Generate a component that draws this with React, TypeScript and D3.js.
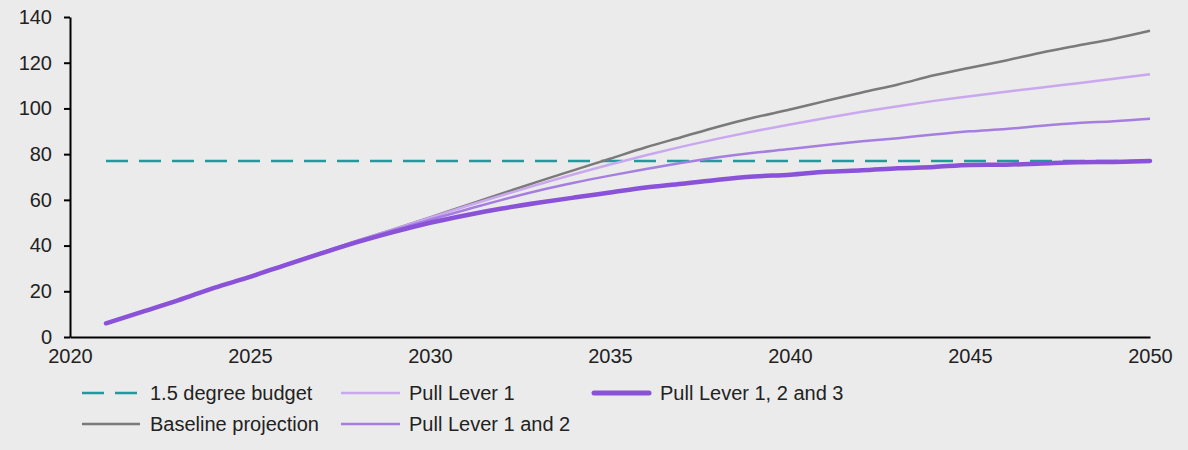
import React, { useEffect, useRef } from "react";
import * as d3 from "d3";

const years: number[] = d3.range(2021, 2051);

const baseline: number[] = [
  6, 11, 16, 21.5, 26.5, 31.8, 37, 42.2, 47.2, 52.3, 57.6, 62.8, 68, 73, 78,
  83, 87.5, 92, 96, 99.5, 103.3, 107, 110.5, 114.5, 117.8, 121, 124.5, 127.5,
  130.5, 134,
];
const lever1: number[] = [
  6, 11, 16, 21.5, 26.5, 31.8, 37, 42.2, 47.2, 52.2, 57.2, 62, 66.7, 71.2,
  75.5, 79.5, 83.3, 86.8, 90, 93, 95.8, 98.5, 101, 103.3, 105.3, 107.3, 109.2,
  111, 113, 115,
];
const lever12: number[] = [
  6, 11, 16, 21.5, 26.5, 31.8, 37, 42, 46.8, 51.3, 55.7, 60, 64, 67.5, 70.6,
  73.5, 76.2, 78.6, 80.6, 82.2, 84, 85.6, 87, 88.6, 90, 91, 92.4, 93.6, 94.4,
  95.5,
];
const lever123: number[] = [
  6, 11, 16, 21.5, 26.3, 31.6, 36.7, 41.6, 46, 50, 53.3, 56.2, 58.7, 61, 63.2,
  65.4, 67, 68.8, 70.2, 71, 72.3, 72.9, 73.8, 74.4, 75.3, 75.4, 75.9, 76.4,
  76.6, 77,
];
const budgetValue = 77;
const yTicks: number[] = [0, 20, 40, 60, 80, 100, 120, 140];
const xTicks: number[] = [2020, 2025, 2030, 2035, 2040, 2045, 2050];

const seriesNames = [
  "1.5 degree budget",
  "Baseline projection",
  "Pull Lever 1",
  "Pull Lever 1 and 2",
  "Pull Lever 1, 2 and 3",
];

const W = 1188;
const H = 450;
const margin = { top: 17, right: 38, bottom: 113, left: 70 };

const App: React.FC = () => {
  const ref = useRef<SVGSVGElement | null>(null);

  useEffect(() => {
    if (!ref.current) return;
    const svg = d3.select(ref.current);
    svg.selectAll("*").remove();

    svg.append("rect").attr("width", W).attr("height", H).attr("fill", "#ebebeb");

    const x = d3
      .scaleLinear()
      .domain([2020, 2050])
      .range([margin.left, W - margin.right]);
    const y = d3
      .scaleLinear()
      .domain([0, 140])
      .range([H - margin.bottom, margin.top]);

    const font = "'Liberation Sans', Arial, sans-serif";
    const textColor = "#222";
    const fs = 20;

    // y axis
    const yAxis = svg
      .append("g")
      .attr("transform", `translate(${margin.left},0)`)
      .call(
        d3
          .axisLeft(y)
          .tickValues(yTicks)
          .tickSize(6)
          .tickPadding(12)
          .tickSizeOuter(0)
      );
    yAxis.select(".domain").attr("stroke", "#000").attr("stroke-width", 2);
    yAxis.selectAll(".tick line").attr("stroke", "#000").attr("stroke-width", 2);
    yAxis
      .selectAll("text")
      .attr("font-family", font)
      .attr("font-size", fs)
      .attr("fill", textColor);

    // x axis
    const xAxis = svg
      .append("g")
      .attr("transform", `translate(0,${H - margin.bottom})`)
      .call(
        d3
          .axisBottom(x)
          .tickValues(xTicks)
          .tickFormat(d3.format("d"))
          .tickSize(0)
          .tickPadding(12)
      );
    xAxis.select(".domain").attr("stroke", "#000").attr("stroke-width", 2);
    xAxis
      .selectAll("text")
      .attr("font-family", font)
      .attr("font-size", fs)
      .attr("fill", textColor);

    const line = d3
      .line<number>()
      .x((_, i) => x(years[i]))
      .y((d) => y(d))
      .curve(d3.curveMonotoneX);

    const styles = [
      { color: "#23999c", width: 2.5, dash: "22,11" },
      { color: "#7a7a7a", width: 2.5, dash: null },
      { color: "#c9a8f0", width: 2.5, dash: null },
      { color: "#a67ee0", width: 2.5, dash: null },
      { color: "#8a52d8", width: 4.5, dash: null },
    ];

    const data: number[][] = [
      years.map(() => budgetValue),
      baseline,
      lever1,
      lever12,
      lever123,
    ];

    data.forEach((vals, i) => {
      const p = svg
        .append("path")
        .datum(vals)
        .attr("fill", "none")
        .attr("stroke", styles[i].color)
        .attr("stroke-width", styles[i].width)
        .attr("stroke-linecap", i === 4 ? "round" : "butt")
        .attr("d", line);
      if (styles[i].dash) p.attr("stroke-dasharray", styles[i].dash);
    });

    // legend
    const legendPos = [
      { x: 82, y: 393, sw: 58, tx: 150 },
      { x: 82, y: 424, sw: 58, tx: 150 },
      { x: 341, y: 393, sw: 59, tx: 409 },
      { x: 341, y: 424, sw: 59, tx: 409 },
      { x: 594, y: 393, sw: 55, tx: 660 },
    ];
    seriesNames.forEach((name, i) => {
      const pos = legendPos[i];
      const g = svg.append("g");
      const l = g
        .append("line")
        .attr("x1", pos.x)
        .attr("x2", pos.x + pos.sw)
        .attr("y1", pos.y)
        .attr("y2", pos.y)
        .attr("stroke", styles[i].color)
        .attr("stroke-width", i === 4 ? 5 : 2.5)
        .attr("stroke-linecap", i === 4 ? "round" : "butt");
      if (styles[i].dash) l.attr("stroke-dasharray", "22,11");
      g.append("text")
        .attr("x", pos.tx)
        .attr("y", pos.y)
        .attr("dy", "0.35em")
        .attr("font-family", font)
        .attr("font-size", fs)
        .attr("fill", textColor)
        .text(name);
    });
  }, []);

  return (
    <svg
      ref={ref}
      width={W}
      height={H}
      style={{ position: "absolute", left: 0, top: 0 }}
    />
  );
};

export default App;
